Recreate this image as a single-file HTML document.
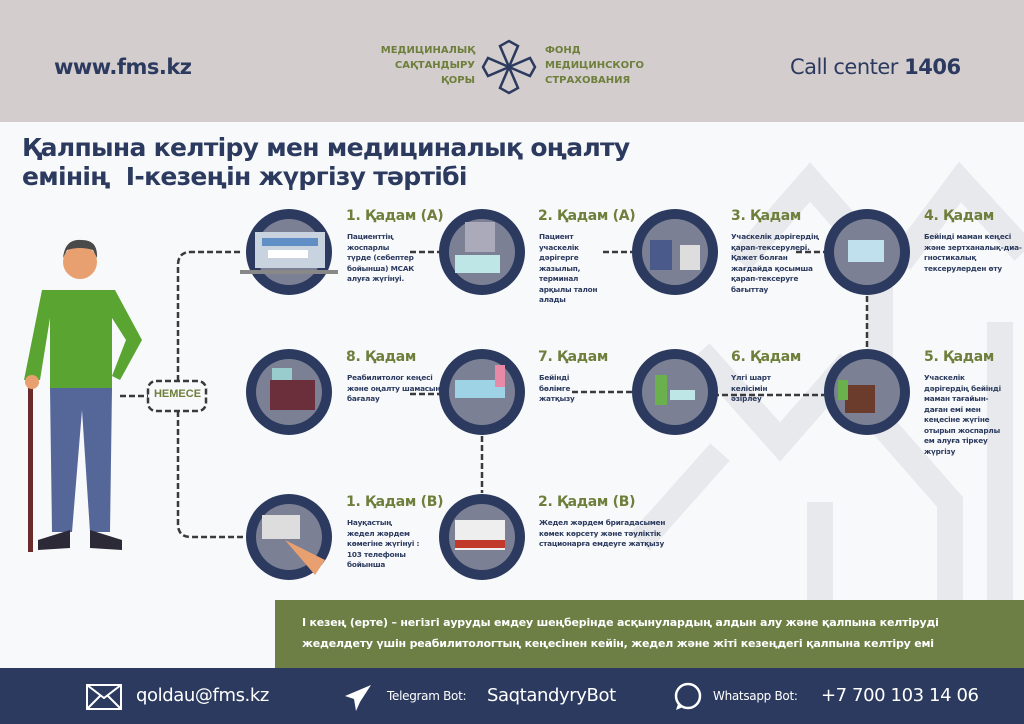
<!DOCTYPE html>
<html><head><meta charset="utf-8"><style>
*{margin:0;padding:0;box-sizing:border-box}
body{width:1024px;height:724px;position:relative;overflow:hidden;background:#f8f9fb;font-family:"Liberation Sans","DejaVu Sans",sans-serif}
.hdr{position:absolute;left:0;top:0;width:1024px;height:122px;background:#d3cdcd}
.a{position:absolute}
.t{position:absolute;color:#6e7f3c;font-weight:bold;font-size:14px;font-family:"DejaVu Sans",sans-serif;letter-spacing:-0.3px}
.d{position:absolute;color:#2b3a5e;font-weight:bold;font-size:7.3px;line-height:10.5px;font-family:"DejaVu Sans",sans-serif;letter-spacing:-0.2px}
</style></head><body>
<div class="hdr"></div>
<div class="a" style="left:54px;top:55px;font-size:21px;font-weight:bold;color:#2b3a5e;font-family:'DejaVu Sans',sans-serif;letter-spacing:-0.5px">www.fms.kz</div>
<div class="a" style="left:790px;top:55px;font-size:21px;color:#2b3a5e;font-family:'DejaVu Sans',sans-serif;letter-spacing:-0.5px">Call center <b>1406</b></div>
<div class="a" style="left:350px;top:43px;width:125px;text-align:right;font-size:10px;line-height:15px;font-weight:bold;color:#6e7f3c;font-family:'DejaVu Sans',sans-serif">МЕДИЦИНАЛЫҚ<br>САҚТАНДЫРУ<br>ҚОРЫ</div>
<div class="a" style="left:545px;top:43px;font-size:10px;line-height:15px;font-weight:bold;color:#6e7f3c;font-family:'DejaVu Sans',sans-serif">ФОНД<br>МЕДИЦИНСКОГО<br>СТРАХОВАНИЯ</div>
<svg class="a" style="left:480px;top:38px" width="58" height="58" viewBox="0 0 58 58"><g fill="none" stroke="#2b3a5e" stroke-width="2.5"><path d="M29 29 L20 8 L29 3 L38 8 Z"/><path d="M29 29 L20 50 L29 55 L38 50 Z"/><path d="M29 29 L8 20 L3 29 L8 38 Z"/><path d="M29 29 L50 20 L55 29 L50 38 Z"/></g></svg>

<svg class="a" style="left:0;top:122px" width="1024" height="478">
<g fill="none" stroke="#e8e9ec" stroke-width="26" stroke-linejoin="miter">
<path d="M740 140 L810 60 L880 140 L880 250"/>
<path d="M900 140 L960 60 L1024 130"/>
<path d="M700 230 L780 320 L850 240"/>
<path d="M640 420 L720 330"/>
<path d="M880 300 L950 380 L950 478"/>
<path d="M820 478 L820 380"/>
<path d="M1000 200 L1000 478"/>
</g></svg>

<div class="a" style="left:22px;top:133px;font-size:25px;line-height:29px;font-weight:bold;color:#2b3a5e;font-family:'DejaVu Sans',sans-serif;letter-spacing:-0.7px">Қалпына келтіру мен медициналық оңалту<br>емінің&nbsp; І-кезеңін жүргізу тәртібі</div>

<svg class="a" style="left:0;top:0" width="1024" height="600">
<g fill="none" stroke="#3a3a3a" stroke-width="2.5" stroke-dasharray="6,3">
<path d="M178 381 V265 Q178 252 191 252 H243"/>
<path d="M178 411 V524 Q178 537 191 537 H243"/>
<path d="M120 396 H148"/>
<rect x="148" y="381" width="58" height="30" rx="8"/>
<path d="M410 252 H440"/><path d="M603 252 H632"/><path d="M796 252 H825"/>
<path d="M867 296 V348"/>
<path d="M713 395 H825"/><path d="M572 392 H632"/><path d="M410 394 H440"/>
<path d="M482 436 V493"/>
</g>
<g>
<circle cx="289" cy="252" r="43" fill="#2b3a5e"/><circle cx="289" cy="252" r="33" fill="#7c8094"/>
<circle cx="482" cy="252" r="43" fill="#2b3a5e"/><circle cx="482" cy="252" r="33" fill="#7c8094"/>
<circle cx="675" cy="252" r="43" fill="#2b3a5e"/><circle cx="675" cy="252" r="33" fill="#7c8094"/>
<circle cx="867" cy="252" r="43" fill="#2b3a5e"/><circle cx="867" cy="252" r="33" fill="#7c8094"/>
<circle cx="289" cy="392" r="43" fill="#2b3a5e"/><circle cx="289" cy="392" r="33" fill="#7c8094"/>
<circle cx="482" cy="392" r="43" fill="#2b3a5e"/><circle cx="482" cy="392" r="33" fill="#7c8094"/>
<circle cx="675" cy="392" r="43" fill="#2b3a5e"/><circle cx="675" cy="392" r="33" fill="#7c8094"/>
<circle cx="867" cy="392" r="43" fill="#2b3a5e"/><circle cx="867" cy="392" r="33" fill="#7c8094"/>
<circle cx="289" cy="537" r="43" fill="#2b3a5e"/><circle cx="289" cy="537" r="33" fill="#7c8094"/>
<circle cx="482" cy="537" r="43" fill="#2b3a5e"/><circle cx="482" cy="537" r="33" fill="#7c8094"/>
</g>
<rect x="255" y="232" width="70" height="36" fill="#c9d3e0"/><rect x="262" y="238" width="56" height="8" fill="#5f8fc4"/><rect x="268" y="250" width="40" height="8" fill="#fff"/><rect x="240" y="270" width="98" height="4" fill="#888"/>
<rect x="455" y="255" width="45" height="18" fill="#bfe6e6"/><rect x="465" y="222" width="30" height="30" fill="#aab"/>
<rect x="650" y="240" width="22" height="30" fill="#4a5a8a"/><rect x="680" y="245" width="20" height="25" fill="#ddd"/>
<rect x="848" y="240" width="36" height="22" fill="#bfe0ec"/>
<rect x="845" y="385" width="30" height="28" fill="#6b3b2b"/><rect x="838" y="380" width="10" height="20" fill="#6ab04c"/>
<rect x="655" y="375" width="12" height="30" fill="#6ab04c"/><rect x="670" y="390" width="25" height="10" fill="#bfe6e6"/>
<rect x="455" y="380" width="50" height="18" fill="#9ed3e6"/><rect x="495" y="365" width="10" height="22" fill="#e889a8"/>
<rect x="270" y="380" width="45" height="30" fill="#6b2e3b"/><rect x="272" y="368" width="20" height="12" fill="#9cc"/>
<rect x="455" y="520" width="50" height="30" fill="#eee"/><rect x="455" y="540" width="50" height="8" fill="#c0392b"/>
<rect x="262" y="515" width="38" height="24" fill="#ddd"/><path d="M285 540 L315 575 L325 560 Z" fill="#e8a070"/>
<circle cx="80" cy="262" r="17" fill="#e8a070"/><path d="M63 258 Q65 238 82 240 Q98 240 97 258 L93 250 Q80 246 67 250 Z" fill="#4a4a4a"/>
<path d="M42 290 L115 290 L142 340 L120 380 L112 376 L126 340 L112 318 L112 388 L50 388 L50 318 L40 380 L24 380 Z" fill="#5aa532"/>
<path d="M50 388 H112 L110 532 H90 L82 410 L72 532 H52 Z" fill="#556699"/>
<path d="M38 540 L70 530 L70 548 L38 550 Z M90 530 L122 540 L122 550 L90 548 Z" fill="#2c2a36"/>
<rect x="28" y="385" width="5" height="167" fill="#6b2b2b"/><circle cx="32" cy="382" r="7" fill="#e8a070"/>
</svg>
<div class="a" style="left:150px;top:388px;width:55px;text-align:center;font-size:11px;font-weight:bold;color:#6e7f3c">НЕМЕСЕ</div>

<div class="t" style="left:346px;top:208px">1. Қадам (А)</div>
<div class="d" style="left:347px;top:232px">Пациенттің<br>жоспарлы<br>түрде (себептер<br>бойынша) МСАК<br>алуға жүгінуі.</div>
<div class="t" style="left:538px;top:208px">2. Қадам (А)</div>
<div class="d" style="left:539px;top:232px">Пациент<br>учаскелік<br>дәрігерге<br>жазылып,<br>терминал<br>арқылы талон<br>алады</div>
<div class="t" style="left:731px;top:208px">3. Қадам</div>
<div class="d" style="left:731px;top:232px">Учаскелік дәрігердің<br>қарап-тексерулері.<br>Қажет болған<br>жағдайда қосымша<br>қарап-тексеруге<br>бағыттау</div>
<div class="t" style="left:924px;top:208px">4. Қадам</div>
<div class="d" style="left:924px;top:232px">Бейінді маман кеңесі<br>және зертханалық-диа-<br>гностикалық<br>тексерулерден өту</div>
<div class="t" style="left:346px;top:349px">8. Қадам</div>
<div class="d" style="left:347px;top:373px">Реабилитолог кеңесі<br>және оңалту шамасын<br>бағалау</div>
<div class="t" style="left:538px;top:349px">7. Қадам</div>
<div class="d" style="left:539px;top:373px">Бейінді<br>бөлімге<br>жатқызу</div>
<div class="t" style="left:731px;top:349px">6. Қадам</div>
<div class="d" style="left:731px;top:373px">Үлгі шарт<br>келісімін<br>әзірлеу</div>
<div class="t" style="left:924px;top:349px">5. Қадам</div>
<div class="d" style="left:924px;top:373px">Учаскелік<br>дәрігердің  бейінді<br>маман тағайын-<br>даған емі мен<br>кеңесіне жүгіне<br>отырып жоспарлы<br>ем алуға тіркеу<br>жүргізу</div>
<div class="t" style="left:346px;top:494px">1. Қадам (В)</div>
<div class="d" style="left:347px;top:518px">Науқастың<br>жедел жәрдем<br>көмегіне жүгінуі :<br>103 телефоны<br>бойынша</div>
<div class="t" style="left:538px;top:494px">2. Қадам (В)</div>
<div class="d" style="left:539px;top:518px">Жедел жәрдем бригадасымен<br>көмек көрсету және тәуліктік<br>стационарға емдеуге жатқызу</div>

<div class="a" style="left:275px;top:600px;width:749px;height:68px;background:#6d7f45"></div>
<div class="a" style="left:302px;top:612px;font-size:11px;line-height:21px;color:#fff;font-weight:bold;font-family:'DejaVu Sans',sans-serif;letter-spacing:-0.2px">І кезең (ерте) – негізгі ауруды емдеу шеңберінде асқынулардың алдын алу және қалпына келтіруді<br>жеделдету үшін реабилитологтың кеңесінен кейін, жедел және жіті кезеңдегі қалпына келтіру емі</div>
<div class="a" style="left:0;top:668px;width:1024px;height:56px;background:#2b3a5e"></div>
<svg class="a" style="left:86px;top:684px" width="36" height="26"><rect x="1" y="1" width="34" height="24" fill="none" stroke="#fff" stroke-width="2"/><path d="M1 1 L18 14 L35 1 M1 25 L14 12 M35 25 L22 12" stroke="#fff" stroke-width="2" fill="none"/></svg>
<div class="a" style="left:136px;top:685px;font-size:18px;color:#fff;font-family:'DejaVu Sans',sans-serif;letter-spacing:-0.4px">qoldau@fms.kz</div>
<svg class="a" style="left:344px;top:684px" width="28" height="28"><path d="M27 1 L1 12 L10 15 L12 27 L16 18 Z" fill="#fff"/></svg>
<div class="a" style="left:387px;top:689px;font-size:12px;color:#fff;font-family:'DejaVu Sans',sans-serif;letter-spacing:-0.3px">Telegram Bot:</div>
<div class="a" style="left:487px;top:685px;font-size:18px;color:#fff;font-family:'DejaVu Sans',sans-serif;letter-spacing:-0.4px">SaqtandyryBot</div>
<svg class="a" style="left:673px;top:682px" width="30" height="30"><circle cx="15" cy="14" r="12" fill="none" stroke="#fff" stroke-width="2.5"/><path d="M5 22 L3 28 L10 25" fill="#fff"/></svg>
<div class="a" style="left:713px;top:689px;font-size:12px;color:#fff;font-family:'DejaVu Sans',sans-serif;letter-spacing:-0.3px">Whatsapp Bot:</div>
<div class="a" style="left:821px;top:685px;font-size:18px;color:#fff;font-family:'DejaVu Sans',sans-serif;letter-spacing:-0.4px">+7 700 103 14 06</div>
</body></html>
